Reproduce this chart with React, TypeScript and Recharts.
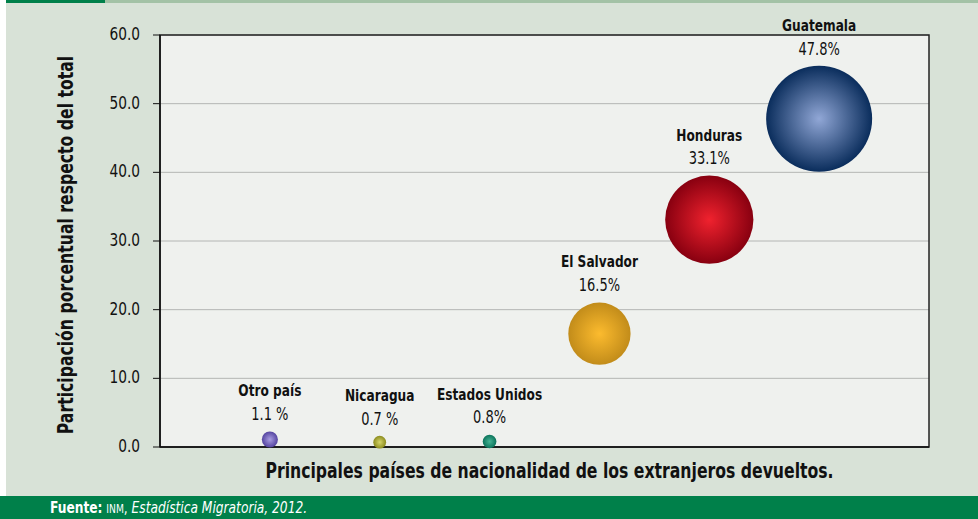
import { ScatterChart, Scatter, XAxis, YAxis, ZAxis, CartesianGrid, ReferenceArea } from "recharts";

const countries = ["Otro país", "Nicaragua", "Estados Unidos", "El Salvador", "Honduras", "Guatemala"];
const shares = [1.1, 0.7, 0.8, 16.5, 33.1, 47.8];
const shareLabels = ["1.1 %", "0.7 %", "0.8%", "16.5%", "33.1%", "47.8%"];
const yTicks = [0, 10, 20, 30, 40, 50, 60];
const bubbleColors = [
    ["#a99de2", "#5444a0"],
    ["#d6d66a", "#8c8c1e"],
    ["#45b595", "#0b735a"],
    ["#fcbb2e", "#c28c1a"],
    ["#f0222e", "#880010"],
    ["#91a7d6", "#0a2d5c"],
];

const FONT = '"DejaVu Sans Condensed", "Liberation Sans", Arial, sans-serif';
const SQUEEZE = 0.85;

const data = countries.map((name, i) => ({
    name,
    pos: i + 1,
    share: shares[i],
    label: shareLabels[i],
    idx: i,
}));

// narrow text, the original uses a condensed face we don't have
function CondText({ x, y, size, bold, anchor = "middle", sx = SQUEEZE, children }: any) {
    return (
        <text transform={`translate(${x}, ${y}) scale(${sx}, 1)`} textAnchor={anchor}
            dominantBaseline="middle" fontFamily={FONT} fontWeight={bold ? "bold" : "normal"}
            fontSize={size} fill="#111">
            {children}
        </text>
    );
}

function Bubble(props: any) {
    const { cx, cy, size, payload } = props;
    const r = Math.sqrt(size / Math.PI);
    const top = cy - r;
    return (
        <g>
            <circle cx={cx} cy={cy} r={r} fill={`url(#bub-${payload.idx})`} />
            <CondText x={cx} y={top - 40} size={16.5} sx={0.82} bold>{payload.name}</CondText>
            <CondText x={cx} y={top - 16} size={17}>{payload.label}</CondText>
        </g>
    );
}

function YTick(props: any) {
    const { x, y, payload } = props;
    return <CondText x={x} y={y} size={18} anchor="end">{payload.value.toFixed(1)}</CondText>;
}

function YTitle(props: any) {
    const { viewBox } = props;
    const cy = viewBox.y + viewBox.height / 2 + 4;
    return (
        <text x={0} y={0} transform={`translate(67, ${cy}) rotate(-90) scale(0.83, 1)`} textAnchor="middle"
            dominantBaseline="middle" fontFamily={FONT} fontWeight="bold" fontSize={21} fill="#111">
            Participación porcentual respecto del total
        </text>
    );
}

function XTitle(props: any) {
    const { viewBox } = props;
    return (
        <CondText x={viewBox.x + viewBox.width / 2 + 5} y={472} size={21} sx={0.83} bold>
            Principales países de nacionalidad de los extranjeros devueltos.
        </CondText>
    );
}

export default function App() {
    return (
        <div style={{ position: "absolute", left: 0, top: 0, width: 978, height: 519, background: "#fff", overflow: "hidden" }}>
            <div style={{ position: "absolute", left: 6, top: 0, width: 972, height: 519, background: "#d8e2d7" }} />
            <div style={{ position: "absolute", left: 6, top: 0, width: 99, height: 3, background: "#00804a" }} />
            <div style={{ position: "absolute", left: 105, top: 0, width: 873, height: 3, background: "#a3c2a6" }} />
            <div style={{ position: "absolute", left: 0, top: 0 }}>
                <ScatterChart width={978} height={519} margin={{ top: 35, right: 49, bottom: 22, left: 50 }}>
                    <defs>
                        {bubbleColors.map((c, i) => (
                            <radialGradient key={i} id={`bub-${i}`} cx="50%" cy="50%" r="50%">
                                <stop offset="0%" stopColor={c[0]} />
                                <stop offset="100%" stopColor={c[1]} />
                            </radialGradient>
                        ))}
                    </defs>
                    <CartesianGrid vertical={false} stroke="#b4b6b4" fill="#eff1ee" fillOpacity={1} />
                    <XAxis type="number" dataKey="pos" domain={[0, 7]} ticks={[]} tick={false} tickLine={false}
                        height={50} axisLine={{ stroke: "#111", strokeWidth: 1.5 }}
                        label={<XTitle />} />
                    <YAxis type="number" dataKey="share" domain={[0, 60]} ticks={yTicks} width={110}
                        tickSize={7} tickMargin={13}
                        axisLine={{ stroke: "#111", strokeWidth: 1.5 }} tickLine={{ stroke: "#111" }}
                        tick={<YTick />}
                        label={<YTitle />} />
                    <ZAxis type="number" dataKey="share" domain={[0, 47.8]} range={[0, 8825]} />
                    <ReferenceArea x1={0} x2={7} y1={0} y2={60} fill="none" stroke="#222" strokeWidth={1.5} />
                    <Scatter data={data} shape={<Bubble />} isAnimationActive={false} />
                </ScatterChart>
            </div>
            <div style={{ position: "absolute", left: 0, top: 496, width: 978, height: 23, background: "#00804a" }} />
            <div style={{ position: "absolute", left: 50, top: 498, color: "#fff", fontFamily: FONT, fontSize: 16,
                whiteSpace: "nowrap", transform: `scaleX(${SQUEEZE})`, transformOrigin: "left top" }}>
                <b>Fuente:</b> <span style={{ fontSize: 12 }}>INM</span>, <i>Estadística Migratoria, 2012.</i>
            </div>
        </div>
    );
}
